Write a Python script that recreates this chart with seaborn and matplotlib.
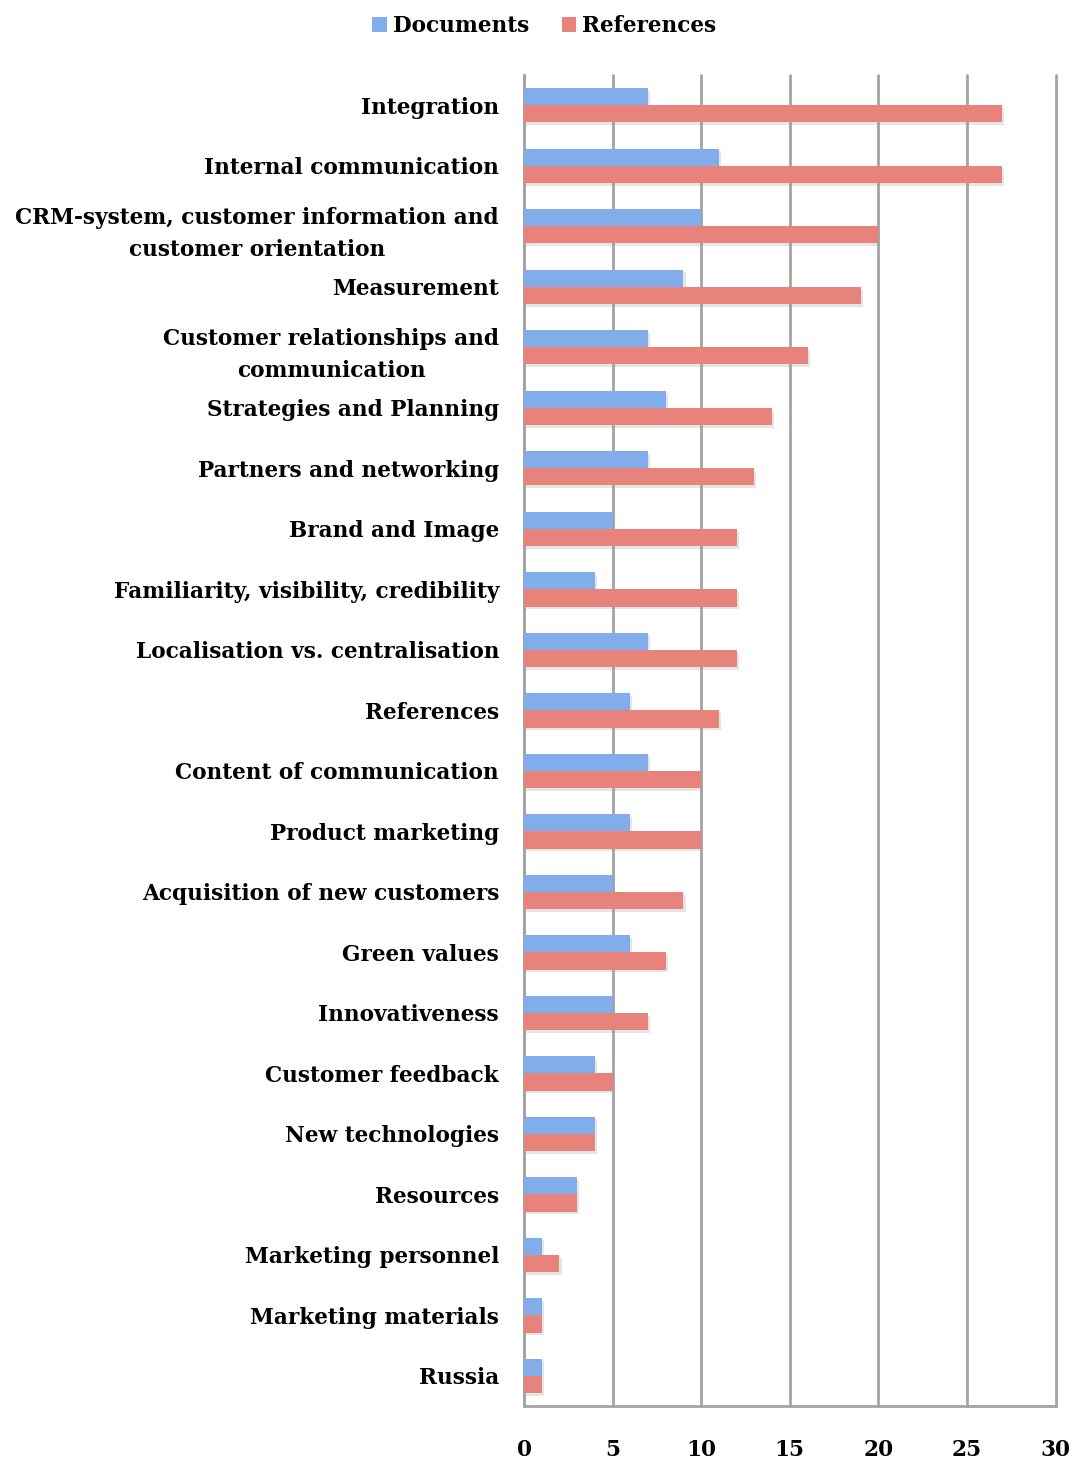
import matplotlib
matplotlib.use("Agg")
import matplotlib.pyplot as plt
import matplotlib.patheffects as pe
from matplotlib.patches import Patch
import seaborn as sns
import pandas as pd

categories = [
    "Integration",
    "Internal communication",
    "CRM-system, customer information and\ncustomer orientation",
    "Measurement",
    "Customer relationships and\ncommunication",
    "Strategies and Planning",
    "Partners and networking",
    "Brand and Image",
    "Familiarity, visibility, credibility",
    "Localisation vs. centralisation",
    "References",
    "Content of communication",
    "Product marketing",
    "Acquisition of new customers",
    "Green values",
    "Innovativeness",
    "Customer feedback",
    "New technologies",
    "Resources",
    "Marketing personnel",
    "Marketing materials",
    "Russia",
]
documents = [7, 11, 10, 9, 7, 8, 7, 5, 4, 7, 6, 7, 6, 5, 6, 5, 4, 4, 3, 1, 1, 1]
references = [27, 27, 20, 19, 16, 14, 13, 12, 12, 12, 11, 10, 10, 9, 8, 7, 5, 4, 3, 2, 1, 1]
series = ["Documents", "References"]
x_ticks = [0, 5, 10, 15, 20, 25, 30]

colors = {"Documents": "#81ADEA", "References": "#E8837C"}
grid_color = "#A3A3A3"

df = pd.DataFrame({
    "category": categories * 2,
    "value": documents + references,
    "series": [series[0]] * len(categories) + [series[1]] * len(categories),
})

sns.set_style("white")
plt.rcParams["font.family"] = ["DejaVu Serif"]
plt.rcParams["font.weight"] = "bold"
plt.rcParams["text.color"] = "black"
plt.rcParams["xtick.labelcolor"] = "black"
plt.rcParams["ytick.labelcolor"] = "black"

FS = 15.6

fig = plt.figure(figsize=(10.76, 14.59), dpi=100)
ax = fig.add_axes([0.487, 0.0363, 0.494, 0.9123])

sns.barplot(data=df, y="category", x="value", hue="series", order=categories,
            hue_order=series, palette=colors, orient="h", width=0.57,
            dodge=True, ax=ax, legend=False, saturation=1, edgecolor="none")

for p in ax.patches:
    p.set_path_effects([pe.SimplePatchShadow(offset=(1.5, -2), shadow_rgbFace="#999999", alpha=0.25),
                        pe.Normal()])
    p.set_zorder(3)

ax.set_xlim(0, 30)
ax.set_ylim(len(categories) - 0.5, -0.5)
ax.set_xticks(x_ticks)
ax.set_xticklabels([str(t) for t in x_ticks], fontsize=FS, fontweight="bold", color="black")
ax.set_yticks(range(len(categories)))
ax.set_yticklabels(categories, fontsize=FS, fontweight="bold", multialignment="center",
                   linespacing=1.6, color="black")
ax.set_yticks([i - 0.5 for i in range(len(categories) + 1)], minor=True)
ax.tick_params(axis="y", which="major", length=0, pad=18)
ax.tick_params(axis="y", which="minor", length=6, width=2, color=grid_color, direction="out")
ax.tick_params(axis="x", which="major", length=6, width=2, color=grid_color, direction="out", pad=18)
ax.set_xlabel("")
ax.set_ylabel("")

ax.grid(axis="x", color=grid_color, linewidth=2, zorder=0)
for gl in ax.get_xgridlines():
    gl.set_clip_on(False)
ax.set_axisbelow(True)
for s in ["top", "right"]:
    ax.spines[s].set_visible(False)
for s in ["left", "bottom"]:
    ax.spines[s].set_color(grid_color)
    ax.spines[s].set_linewidth(2)

handles = [Patch(facecolor=colors[s], edgecolor="none", label=s) for s in series]
fig.legend(handles=handles, loc="upper center", bbox_to_anchor=(0.506, 1.003), ncol=2,
           frameon=False, handlelength=0.65, handleheight=0.65,
           handletextpad=0.3, columnspacing=1.5, prop={"weight": "bold", "size": FS})

fig.savefig("out.png", dpi=100)
